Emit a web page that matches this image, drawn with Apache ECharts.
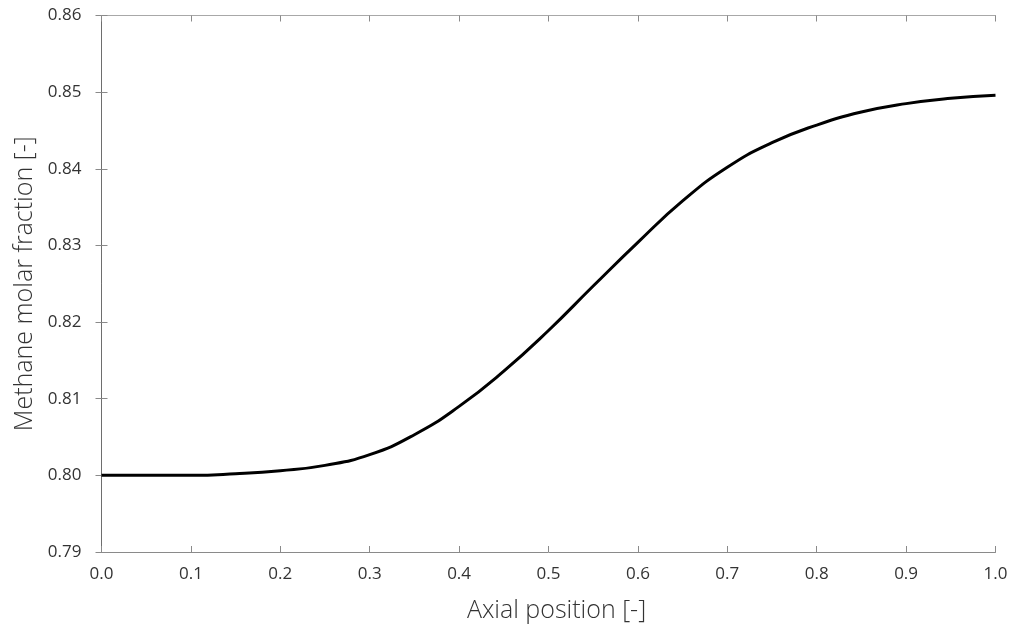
<!DOCTYPE html>
<html>
<head>
<meta charset="utf-8">
<title>Methane molar fraction along the reactor</title>
<script src="https://cdn.jsdelivr.net/npm/echarts@6/dist/echarts.min.js"></script>
<style>
  html, body { margin: 0; padding: 0; background: #ffffff; }
  #chart { width: 1011px; height: 628px; }
</style>
</head>
<body>
<div id="chart"></div>
<script>
// Axial position along the reactor (dimensionless)
const axialPosition = [0.00, 0.05, 0.10, 0.15, 0.20, 0.25, 0.30, 0.35, 0.40, 0.45, 0.50,
                       0.55, 0.60, 0.65, 0.70, 0.75, 0.80, 0.85, 0.90, 0.95, 1.00];
// Methane molar fraction at each position
const methaneFraction = [0.8000, 0.8000, 0.8000, 0.8002, 0.8006, 0.8013, 0.8027, 0.8053, 0.8090, 0.8136, 0.8189,
                         0.8247, 0.8304, 0.8358, 0.8402, 0.8434, 0.8457, 0.8474, 0.8485, 0.8492, 0.8496];

const xTitle = 'Axial position [-]';
const yTitle = 'Methane molar fraction [-]';

const FONT = '"Open Sans", "DejaVu Sans", sans-serif';
const AXIS_COLOR = '#8a8a8a';
const TEXT_COLOR = '#333333';

const chart = echarts.init(document.getElementById('chart'), null, { renderer: 'canvas' });

const xRange = { min: 0, max: 1, interval: 0.1 };
const yRange = { min: 0.79, max: 0.86, interval: 0.01 };

chart.setOption({
  animation: false,
  backgroundColor: '#ffffff',
  grid: { left: 101.5, right: 15.5, top: 15.5, bottom: 75.5, containLabel: false },
  xAxis: [
    {
      type: 'value', position: 'bottom', ...xRange,
      name: xTitle, nameLocation: 'middle', nameGap: 46,
      nameTextStyle: { fontFamily: FONT, fontSize: 25, color: TEXT_COLOR, fontWeight: 300,
                       padding: [0, 0, 0, 16] },
      axisLine: { show: true, lineStyle: { color: AXIS_COLOR, width: 1 } },
      axisTick: { show: true, inside: true, length: 6, lineStyle: { color: AXIS_COLOR } },
      axisLabel: { fontFamily: FONT, fontSize: 17, color: TEXT_COLOR, margin: 14,
                   formatter: v => v.toFixed(1) },
      splitLine: { show: false }
    },
    {
      type: 'value', position: 'top', ...xRange,
      axisLine: { show: true, lineStyle: { color: '#a8a8a8', width: 1 } },
      axisTick: { show: true, inside: true, length: 6, lineStyle: { color: AXIS_COLOR } },
      axisLabel: { show: false },
      splitLine: { show: false }
    }
  ],
  yAxis: [
    {
      type: 'value', position: 'left', ...yRange,
      name: yTitle, nameLocation: 'middle', nameGap: 61,
      nameTextStyle: { fontFamily: FONT, fontSize: 25, color: TEXT_COLOR, fontWeight: 300 },
      axisLine: { show: true, lineStyle: { color: AXIS_COLOR, width: 1 } },
      axisTick: { show: true, inside: true, length: 6, lineStyle: { color: AXIS_COLOR } },
      axisLabel: { fontFamily: FONT, fontSize: 17, color: TEXT_COLOR, margin: 20,
                   formatter: v => v.toFixed(2) },
      splitLine: { show: false }
    },
    {
      type: 'value', position: 'right', ...yRange,
      axisLine: { show: true, lineStyle: { color: '#6e6e6e', width: 1 } },
      axisTick: { show: true, inside: true, length: 6, lineStyle: { color: AXIS_COLOR } },
      axisLabel: { show: false },
      splitLine: { show: false }
    }
  ],
  series: [
    {
      type: 'line',
      xAxisIndex: 0, yAxisIndex: 0,
      data: axialPosition.map((x, i) => [x, methaneFraction[i]]),
      smooth: 0.5,
      showSymbol: false,
      lineStyle: { color: '#000000', width: 3 }
    }
  ]
});
</script>
</body>
</html>
